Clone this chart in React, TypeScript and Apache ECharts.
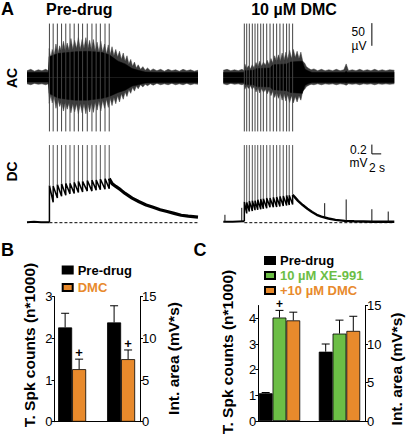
import React, { useEffect, useRef } from "react";
import * as echarts from "echarts";

const FONT = "'Liberation Sans', Arial, Helvetica, sans-serif";
const ORANGE = "#E88A2C";
const GREEN = "#6CBE46";

// ---------- Panel A: recordings (time in s, AC in µV, DC in mV) ----------
const TRACE_END = 36.6;
const leftSpikeTimes = [4.8, 5.6, 6.5, 7.4, 8.3, 9.2, 10.1, 11.0, 11.9, 12.9, 13.9, 14.8, 15.7, 16.7, 17.6];
const rightSpikeTimes = [4.5, 5.01, 5.57, 6.21, 6.79, 7.37, 8.01, 8.57, 9.29, 10.0, 10.71, 11.42, 12.12, 12.83, 13.55, 14.11, 14.84];
const acSpikeAmp = 119;
const dcSpikeTop = 1.67;

// AC, pre-drug: outer (noisy fringe) and dense core envelopes
const acLeftOuterT = [0, 0.8, 1.6, 2.4, 3.2, 4.0, 4.6, 4.75, 5.1, 5.4, 5.8, 6.2, 6.6, 7.0, 7.4, 7.8, 8.2, 8.6, 9.0, 9.4, 9.8, 10.2, 10.6, 11.0, 11.4, 11.8, 12.2, 12.6, 13.0, 13.4, 13.8, 14.2, 14.6, 15.0, 15.4, 15.8, 16.2, 16.6, 17.0, 17.4, 17.8, 18.2, 18.6, 19.0, 19.4, 19.8, 20.2, 20.6, 21.0, 21.4, 21.8, 22.2, 22.6, 23.0, 23.4, 23.8, 24.3, 24.8, 25.3, 25.8, 26.4, 27.0, 27.8, 28.6, 29.4, 30.2, 31.0, 31.8, 32.6, 33.4, 34.2, 35.0, 35.8, 36.6];
const acLeftOuterUp = [15, 18, 14, 17, 15, 18, 15, 64, 42, 62, 48, 74, 52, 70, 56, 80, 58, 76, 60, 86, 62, 82, 64, 88, 62, 84, 64, 88, 62, 82, 60, 84, 58, 78, 56, 80, 55, 74, 52, 72, 50, 68, 48, 62, 45, 58, 40, 54, 36, 48, 30, 40, 25, 34, 21, 28, 18, 24, 16, 21, 15, 19, 15, 18, 14, 18, 15, 17, 14, 18, 15, 17, 14, 16];
const acLeftOuterLow = [-14, -16, -13, -15, -14, -16, -14, -57, -38, -56, -42, -68, -48, -64, -52, -74, -54, -70, -56, -78, -58, -76, -58, -80, -58, -78, -58, -80, -56, -76, -55, -77, -54, -72, -52, -74, -50, -68, -48, -66, -46, -62, -44, -58, -40, -54, -36, -48, -32, -42, -27, -35, -22, -30, -19, -25, -16, -21, -15, -18, -14, -17, -13, -16, -14, -16, -13, -16, -14, -16, -13, -16, -14, -15];
const acLeftCoreT = [0, 4.6, 4.75, 6.6, 8.5, 10.3, 13, 16.1, 17.6, 19.5, 21, 22.5, 23.8, 25.3, 28, 31, 34, 36.6];
const acLeftCoreUp = [11, 11, 46, 53, 55, 57, 58, 55, 50, 36, 30, 20, 16, 12, 11, 11, 11, 11];
const acLeftCoreLow = [-10, -10, -35, -45, -48, -50, -50, -46, -42, -33, -28, -19, -16, -12, -11, -11, -11, -11];

// AC, 10 µM DMC
const acRightOuterT = [0, 0.8, 1.6, 2.4, 3.2, 4.0, 4.45, 4.6, 5.0, 5.4, 5.8, 6.2, 6.6, 7.0, 7.4, 7.8, 8.2, 8.6, 9.0, 9.4, 9.8, 10.2, 10.6, 11.0, 11.4, 11.8, 12.2, 12.6, 13.0, 13.4, 13.8, 14.2, 14.6, 15.0, 15.4, 15.8, 16.2, 16.6, 17.0, 17.4, 17.8, 18.3, 18.8, 19.4, 20.2, 21.0, 21.8, 22.6, 23.4, 24.2, 25.0, 25.8, 26.3, 26.8, 27.6, 28.4, 29.2, 30.0, 30.8, 31.6, 32.4, 33.2, 34.0, 34.8, 35.6, 36.6];
const acRightOuterUp = [16, 18, 15, 17, 15, 18, 15, 30, 20, 26, 19, 28, 21, 33, 24, 36, 25, 34, 27, 38, 28, 42, 32, 48, 34, 50, 36, 54, 38, 56, 40, 60, 42, 62, 44, 58, 42, 56, 36, 32, 24, 20, 17, 19, 15, 18, 15, 17, 15, 18, 15, 17, 30, 15, 17, 15, 18, 15, 17, 15, 18, 15, 17, 15, 17, 16];
const acRightOuterLow = [-14, -16, -13, -15, -14, -16, -14, -26, -18, -24, -18, -26, -20, -32, -22, -34, -24, -33, -26, -36, -27, -40, -30, -44, -32, -46, -34, -50, -36, -52, -38, -55, -40, -56, -42, -54, -40, -50, -30, -26, -20, -17, -15, -16, -14, -16, -14, -15, -14, -16, -14, -15, -17, -14, -15, -14, -16, -14, -15, -14, -16, -14, -15, -14, -15, -14];
const acRightCoreT = [0, 4.4, 4.6, 6.4, 7.2, 10, 10.6, 13.6, 14.3, 16.9, 17.5, 18.1, 19, 26, 26.3, 26.6, 31, 36.6];
const acRightCoreUp = [11, 11, 15, 16, 20, 21, 28, 30, 34, 36, 18, 15, 11, 11, 14, 11, 11, 11];
const acRightCoreLow = [-11, -11, -15, -16, -20, -21, -27, -29, -33, -35, -17, -14, -11, -11, -12, -11, -11, -11];

// DC
const dcLeftPre = [[0, 0.01], [1.5, 0.02], [3, 0.01], [4.8, 0.01]];
const dcLeftPeaks = [0.8, 0.79, 0.82, 0.84, 0.85, 0.85, 0.87, 0.89, 0.89, 0.91, 0.92, 0.92, 0.94, 0.95, 0.95];
const dcLeftTroughs = [0.44, 0.53, 0.57, 0.59, 0.62, 0.63, 0.65, 0.66, 0.68, 0.68, 0.7, 0.71, 0.72, 0.73];
const dcLeftTail = [[17.6, 0.95], [18.2, 0.84], [19, 0.78], [20, 0.71], [21, 0.63], [22.5, 0.53], [24, 0.45], [25.5, 0.38], [27, 0.33], [28.5, 0.28], [30, 0.24], [31.5, 0.2], [33, 0.16], [34.5, 0.14], [36.6, 0.12]];

const dcRightPre = [[0, 0.02], [2, 0.02], [4.5, 0.03]];
const dcRightPeaks = [0.45, 0.44, 0.47, 0.48, 0.48, 0.5, 0.51, 0.52, 0.53, 0.53, 0.55, 0.56, 0.57, 0.58, 0.59, 0.59, 0.6];
const dcRightTroughs = [0.2, 0.24, 0.25, 0.27, 0.28, 0.29, 0.3, 0.31, 0.33, 0.33, 0.34, 0.35, 0.36, 0.37, 0.38, 0.39];
const dcRightTail = [[14.84, 0.6], [15.3, 0.55], [16, 0.47], [17, 0.38], [18, 0.3], [19, 0.23], [20, 0.17], [21, 0.13], [22.5, 0.09], [24, 0.06], [26, 0.04], [28, 0.03], [32, 0.02], [36.6, 0.02]];
// spontaneous spikes: [time, base, peak]
const dcRightSpont = [[0.35, 0.02, 0.17], [3.95, 0.02, 0.32], [21.7, 0.12, 0.42], [26.3, 0.04, 0.5], [31.8, 0.02, 0.29], [35.3, 0.02, 0.24]];

// ---------- Panel B ----------
const bNames = ["Pre-drug", "DMC"];
const bCounts = [2.26, 1.26]; // T. Spk counts (n*1000)
const bCountsSem = [0.34, 0.24];
const bArea = [11.9, 7.5]; // Int. area (mV*s)
const bAreaSem = [2.0, 1.1];
const bSig = [0, 1];

// ---------- Panel C ----------
const cNames = ["Pre-drug", "10 µM XE-991", "+10 µM DMC"];
const cCounts = [1.08, 4.03, 3.92];
const cCountsSem = [0.03, 0.28, 0.32];
const cArea = [9.0, 11.35, 11.7];
const cAreaSem = [1.0, 1.75, 1.9];
const cCountSig = [0, 1, 0];
const cAreaSig = [0, 0, 0];
const cLeftTicks = [0, 1, 2, 3, 4];

const txt = (text: string, x: number, y: number, size: number, o: any = {}) => ({
  type: "text",
  x,
  y,
  rotation: o.rot || 0,
  silent: true,
  style: {
    text,
    fill: o.color || "#000",
    font: `${o.bold === false ? "" : "bold "}${size}px ${FONT}`,
    align: o.align || "center",
    verticalAlign: "middle",
    textAlign: o.align || "center",
    textVerticalAlign: "middle",
  },
});

function buildDc(pre: number[][], spikes: number[], peaks: number[], troughs: number[]) {
  const pts: number[][] = [];
  spikes.forEach((t, i) => {
    const before = i === 0 ? pre[pre.length - 1][1] : troughs[i - 1];
    pts.push([t, before]);
    pts.push([t, peaks[i]]);
  });
  return pts;
}

function buildOption() {
  const series: any[] = [];
  const area = (idx: number, t: number[], v: number[], color: string, z: number) =>
    series.push({
      type: "line",
      xAxisIndex: idx,
      yAxisIndex: idx,
      data: t.map((x, i) => [x, v[i]]),
      symbol: "none",
      lineStyle: { width: 0.5, color },
      itemStyle: { color },
      areaStyle: { color, opacity: 1, origin: "auto" },
      silent: true,
      z,
    });
  const vlines = (idx: number, data: number[][], color: string, w: number) =>
    series.push({
      type: "custom",
      xAxisIndex: idx,
      yAxisIndex: idx,
      data,
      clip: false,
      silent: true,
      z: 4,
      encode: { x: 0, y: [1, 2] },
      renderItem: (_p: any, api: any) => {
        const a = api.coord([api.value(0), api.value(1)]);
        const b = api.coord([api.value(0), api.value(2)]);
        return { type: "line", shape: { x1: a[0], y1: a[1], x2: b[0], y2: b[1] }, style: { stroke: color, lineWidth: w } };
      },
    });
  const line = (idx: number, data: number[][], w: number, extra: any = {}) =>
    series.push({
      type: "line",
      xAxisIndex: idx,
      yAxisIndex: idx,
      data,
      symbol: "none",
      lineStyle: { width: w, color: "#000", ...extra },
      itemStyle: { color: "#000" },
      silent: true,
      z: 3,
    });

  // AC traces
  area(0, acLeftOuterT, acLeftOuterUp, "#3a3a3a", 1);
  area(0, acLeftOuterT, acLeftOuterLow, "#3a3a3a", 1);
  area(0, acLeftCoreT, acLeftCoreUp, "#000", 2);
  area(0, acLeftCoreT, acLeftCoreLow, "#000", 2);
  vlines(0, leftSpikeTimes.map((t) => [t, -acSpikeAmp, acSpikeAmp]), "#444", 1);
  area(1, acRightOuterT, acRightOuterUp, "#3a3a3a", 1);
  area(1, acRightOuterT, acRightOuterLow, "#3a3a3a", 1);
  area(1, acRightCoreT, acRightCoreUp, "#000", 2);
  area(1, acRightCoreT, acRightCoreLow, "#000", 2);
  vlines(1, rightSpikeTimes.map((t) => [t, -acSpikeAmp, acSpikeAmp]), "#444", 1);
  line(1, [[31.8, 70], [31.8, 120]], 1);

  // DC traces
  line(2, dcLeftPre, 2);
  line(2, buildDc(dcLeftPre, leftSpikeTimes, dcLeftPeaks, dcLeftTroughs), 1.5);
  line(2, dcLeftTail, 3.2);
  vlines(2, leftSpikeTimes.map((t, i) => [t, dcLeftPeaks[i], dcSpikeTop]), "#555", 1);
  line(2, [[leftSpikeTimes[0], 0], [TRACE_END, 0]], 1, { type: [3, 2] });

  line(3, dcRightPre, 2);
  line(3, buildDc(dcRightPre, rightSpikeTimes, dcRightPeaks, dcRightTroughs), 1.5);
  line(3, dcRightTail, 2.4);
  vlines(3, rightSpikeTimes.map((t, i) => [t, dcRightPeaks[i], dcSpikeTop]), "#555", 1);
  vlines(3, dcRightSpont, "#111", 1);
  line(3, [[rightSpikeTimes[0], 0], [TRACE_END, 0]], 1, { type: [3, 2] });
  line(3, [[31.8, 1.68], [31.8, 1.48], [33.8, 1.48]], 1);

  // bar helpers
  const errRender = (bw: number, plusSize: number) => (_p: any, api: any) => {
    const top = api.coord([api.value(0), api.value(1)]);
    const base = api.coord([api.value(0), api.value(2)]);
    const off = (api.value(3) - (api.value(4) - 1) / 2) * bw;
    const x = top[0] + off;
    const children: any[] = [
      { type: "line", shape: { x1: x, y1: base[1], x2: x, y2: top[1] }, style: { stroke: "#000", lineWidth: 1 } },
      { type: "line", shape: { x1: x - 4, y1: top[1], x2: x + 4, y2: top[1] }, style: { stroke: "#000", lineWidth: 1 } },
    ];
    if (api.value(5)) {
      children.push({
        type: "text",
        x,
        y: top[1] - 6.7,
        style: { text: "+", fill: "#000", font: `bold ${plusSize}px ${FONT}`, align: "center", verticalAlign: "middle", textAlign: "center", textVerticalAlign: "middle" },
      });
    }
    return { type: "group", children };
  };
  const bars = (xIdx: number, yIdx: number, group: number, names: string[], vals: number[], colors: string[], bw: number) =>
    names.forEach((n, i) =>
      series.push({
        type: "bar",
        name: n,
        xAxisIndex: xIdx,
        yAxisIndex: yIdx,
        stack: "s" + xIdx + "_" + i,
        data: [[group, vals[i]]],
        barWidth: bw,
        barGap: "0%",
        itemStyle: { color: colors[i], borderColor: "#000", borderWidth: 0.8 },
        silent: true,
        z: 2,
      })
    );
  const errs = (xIdx: number, yIdx: number, group: number, vals: number[], sem: number[], sig: number[], bw: number, plusSize: number) =>
    series.push({
      type: "custom",
      xAxisIndex: xIdx,
      yAxisIndex: yIdx,
      data: vals.map((v, i) => [group, v + sem[i], v, i, vals.length, sig[i]]),
      encode: { x: 0, y: 1 },
      clip: false,
      silent: true,
      z: 5,
      renderItem: errRender(bw, plusSize),
    });

  const bColors = ["#000", ORANGE];
  bars(4, 4, 0, bNames, bCounts, bColors, 14);
  bars(4, 5, 1, bNames, bArea, bColors, 14);
  errs(4, 4, 0, bCounts, bCountsSem, bSig, 14, 13);
  errs(4, 5, 1, bArea, bAreaSem, bSig, 14, 13);

  const cColors = ["#000", GREEN, ORANGE];
  bars(5, 6, 0, cNames, cCounts, cColors, 13.8);
  bars(5, 7, 1, cNames, cArea, cColors, 13.8);
  errs(5, 6, 0, cCounts, cCountsSem, cCountSig, 13.8, 12);
  errs(5, 7, 1, cArea, cAreaSem, cAreaSig, 13.8, 12);

  const axisCommon = {
    axisLine: { show: true, onZero: false, lineStyle: { color: "#000", width: 1 } },
    axisTick: { show: true, length: 3, inside: false, lineStyle: { color: "#000", width: 1 } },
    axisLabel: { margin: 2, color: "#000", fontSize: 13, fontFamily: FONT },
    splitLine: { show: false },
  };
  const hidden = (gi: number, min: number, max: number) => ({ type: "value", gridIndex: gi, min, max, show: false });

  const legendCommon = {
    orient: "vertical",
    icon: "rect",
    itemWidth: 10,
    itemHeight: 7,
    padding: 0,
    selectedMode: false,
    textStyle: { fontSize: 13, fontWeight: "bold", fontFamily: FONT, lineHeight: 13 },
  };

  return {
    animation: false,
    backgroundColor: "#fff",
    textStyle: { fontFamily: FONT },
    grid: [
      { left: 27, top: 19.5, width: 171, height: 116, outerBoundsMode: "none" },
      { left: 223.3, top: 19.5, width: 171, height: 116, outerBoundsMode: "none" },
      { left: 27, top: 139, width: 171, height: 93, outerBoundsMode: "none" },
      { left: 223.3, top: 139, width: 171, height: 93, outerBoundsMode: "none" },
      { left: 54.5, top: 296.6, width: 85.5, height: 125.1, outerBoundsMode: "none" },
      { left: 258.3, top: 305.5, width: 106.7, height: 115.5, outerBoundsMode: "none" },
    ],
    xAxis: [
      hidden(0, 0, TRACE_END),
      hidden(1, 0, TRACE_END),
      hidden(2, 0, TRACE_END),
      hidden(3, 0, TRACE_END),
      { type: "value", gridIndex: 4, min: -0.36, max: 1.386, ...axisCommon, axisTick: { show: false }, axisLabel: { show: false } },
      { type: "value", gridIndex: 5, min: -0.353, max: 1.425, ...axisCommon, axisTick: { show: false }, axisLabel: { show: false } },
    ],
    yAxis: [
      hidden(0, -128, 128),
      hidden(1, -128, 128),
      hidden(2, -0.2, 1.8),
      hidden(3, -0.2, 1.8),
      { type: "value", gridIndex: 4, position: "left", min: 0, max: 3, interval: 1, ...axisCommon },
      { type: "value", gridIndex: 4, position: "right", min: 0, max: 15, interval: 5, ...axisCommon },
      {
        type: "value",
        gridIndex: 5,
        position: "left",
        min: 0,
        max: 4.5,
        interval: 1,
        ...axisCommon,
        axisTick: { ...axisCommon.axisTick, customValues: cLeftTicks },
        axisLabel: { ...axisCommon.axisLabel, customValues: cLeftTicks },
      },
      { type: "value", gridIndex: 5, position: "right", min: 0, max: 15, interval: 5, ...axisCommon },
    ],
    legend: [
      {
        ...legendCommon,
        left: 61.7,
        top: 263.5,
        itemGap: 4.5,
        data: [
          { name: bNames[0], textStyle: { color: "#000" } },
          { name: bNames[1], textStyle: { color: ORANGE } },
        ],
      },
      {
        ...legendCommon,
        left: 264,
        top: 254,
        itemGap: 2,
        data: [
          { name: cNames[0], textStyle: { color: "#000" } },
          { name: cNames[1], textStyle: { color: GREEN } },
          { name: cNames[2], textStyle: { color: ORANGE } },
        ],
      },
    ],
    graphic: [
      txt("A", 7.5, 9, 18),
      txt("Pre-drug", 79.3, 9.5, 16),
      txt("10 µM DMC", 294, 9.5, 16),
      txt("AC", 12, 78, 14, { rot: Math.PI / 2 }),
      txt("DC", 12, 171.5, 14, { rot: Math.PI / 2 }),
      txt("50", 351.5, 31.7, 12, { bold: false, align: "left" }),
      txt("µV", 351.5, 45.5, 12, { bold: false, align: "left" }),
      txt("0.2", 350, 149.5, 12, { bold: false, align: "left" }),
      txt("mV", 349.5, 163, 12, { bold: false, align: "left" }),
      txt("2 s", 369, 167.5, 12, { bold: false, align: "left" }),
      txt("B", 7.5, 250, 18),
      txt("C", 200, 250, 18),
      txt("T. Spk counts (n*1000)", 29.5, 345, 15.5, { rot: Math.PI / 2 }),
      txt("Int. area (mV*s)", 173.5, 358.5, 15.5, { rot: Math.PI / 2 }),
      txt("T. Spk counts (n*1000)", 227.5, 352, 15.5, { rot: Math.PI / 2 }),
      txt("Int. area (mV*s)", 396.5, 369, 15.5, { rot: Math.PI / 2 }),
    ],
    series,
  };
}

export default function App() {
  const ref = useRef<HTMLDivElement>(null);
  useEffect(() => {
    const chart = echarts.init(ref.current!, null, { renderer: "svg" });
    chart.setOption(buildOption() as any);
    return () => chart.dispose();
  }, []);
  return (
    <div
      ref={ref}
      style={{ position: "fixed", left: 0, top: 0, width: 407, height: 440, background: "#fff" }}
    />
  );
}
